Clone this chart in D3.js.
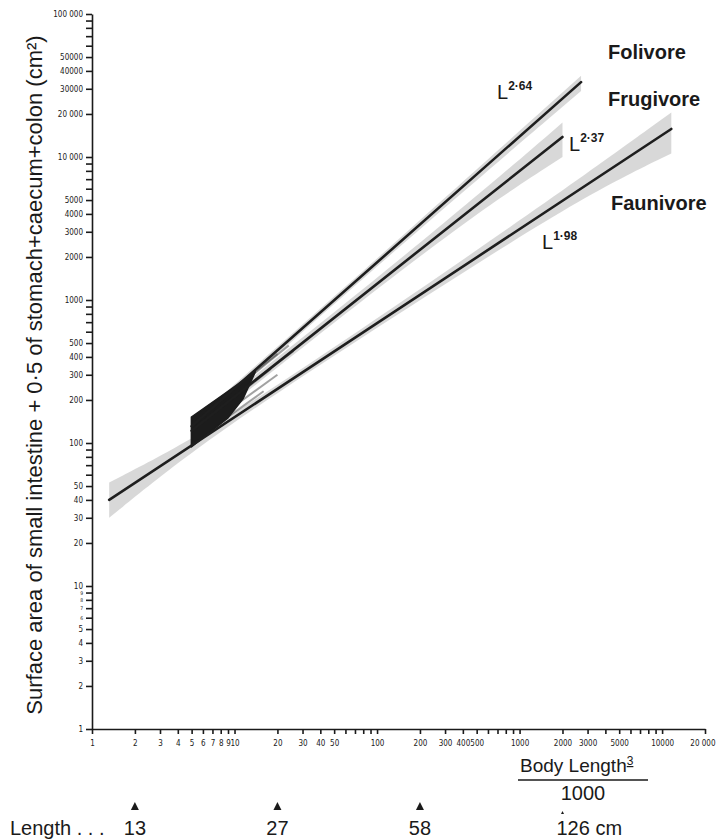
<!DOCTYPE html>
<html>
<head>
<meta charset="utf-8">
<script src="https://cdn.jsdelivr.net/npm/d3@7"></script>
<style>
body { margin: 0; background: #fff; }
svg text { font-family: "Liberation Sans", Arial, Helvetica, sans-serif; fill: #1a1a1a; }
.tick text { font-family: "Liberation Sans Narrow", "DejaVu Sans Condensed", sans-serif; font-size: 8px; }
.tick line, .domain { stroke: #1a1a1a; stroke-width: 1.6; }
</style>
</head>
<body>
<svg id="chart" width="716" height="839"></svg>
<script>

// ---------------------------//
//       DATA                 //
// ---------------------------//

var groups    = ["Folivore", "Frugivore", "Faunivore"];
var exponents = ["2·64", "2·37", "1·98"];

// regression lines: x = body length^3 / 1000, y = surface area (cm2)
var foliLineX = [5, 2700],     foliLineY = [131, 33400];
var frugLineX = [5, 2000],     frugLineY = [122, 13800];
var faunLineX = [1.32, 11600], faunLineY = [40, 15700];

// shaded confidence bands
var foliBandX  = [5, 100, 2700];
var foliBandLo = [122, 1750, 29000];
var foliBandHi = [140, 1930, 37000];

var frugBandX  = [5, 50, 500, 2000];
var frugBandLo = [112, 700, 4100, 10000];
var frugBandHi = [133, 810, 5300, 17400];

var faunBandX  = [1.32, 5, 30, 300, 3000, 11600];
var faunBandLo = [30, 88, 295, 1300, 5500, 10600];
var faunBandHi = [53, 104, 330, 1560, 7700, 20500];

// dense block of individual species lines near x = 5..14
var blobX = [4.98, 9, 14, 11.5, 9, 4.98];
var blobY = [152, 230, 315, 205, 150, 94];

// single species lines fanning out of the block
var streakX0 = [5, 5, 5, 5, 5, 5];
var streakY0 = [145, 135, 120, 110, 100, 128];
var streakX1 = [20, 24, 18, 20, 16, 26];
var streakY1 = [420, 480, 330, 300, 230, 440];

// axis ticks
var xTicksLabelled = [1, 2, 3, 4, 5, 6, 7, 8, 9, 10, 20, 30, 40, 50, 100, 200, 300, 400, 500,
                      1000, 2000, 3000, 5000, 10000, 20000];
var xTicksMinor    = [60, 70, 80, 90, 600, 700, 800, 900, 4000, 6000, 7000, 8000, 9000];
var yTicksLabelled = [1, 2, 3, 4, 5, 6, 7, 8, 9, 10, 20, 30, 40, 50, 100, 200, 300, 400, 500,
                      1000, 2000, 3000, 4000, 5000, 10000, 20000, 30000, 40000, 50000, 100000];
var yTicksMinor    = [60, 70, 80, 90, 600, 700, 800, 900, 6000, 7000, 8000, 9000,
                      60000, 70000, 80000, 90000];

// body length markers (cm) under the axis
var markX      = [2, 20, 200, 2000];
var markLabels = ["13", "27", "58", "126"];

// ---------------------------//
//       AXIS  AND SCALE      //
// ---------------------------//

var svg = d3.select("#chart");

var x = d3.scaleLog()
    .domain([1, 20000])
    .range([92, 705]);

var y = d3.scaleLog()
    .domain([1, 100000])
    .range([729, 14]);

var spaced = function(d) {
    if (d == 100000) return "100 000";
    if (d == 10000) return "10 000";
    if (d == 20000) return "20 000";
    return "" + d;
}

var xAll = xTicksLabelled.concat(xTicksMinor);
var xAxis = svg.append("g")
    .attr("transform", "translate(0," + y(1) + ")")
    .call(d3.axisBottom(x)
        .tickValues(xAll)
        .tickSize(5)
        .tickSizeOuter(0)
        .tickPadding(6)
        .tickFormat(function(d) {
            if (xTicksLabelled.indexOf(d) < 0) return "";
            return d == 10000 ? "10000" : spaced(d);
        }));

// last label runs to the page edge
xAxis.selectAll(".tick text")
    .filter(function(d) { return d == 20000; })
    .attr("text-anchor", "end")
    .attr("dx", 10);

var yAll = yTicksLabelled.concat(yTicksMinor);
var yAxis = svg.append("g")
    .attr("transform", "translate(" + x(1) + ",0)")
    .call(d3.axisLeft(y)
        .tickValues(yAll)
        .tickSize(6)
        .tickSizeOuter(0)
        .tickPadding(3)
        .tickFormat(function(d) {
            return yTicksLabelled.indexOf(d) < 0 ? "" : spaced(d);
        }));

// crowded 6..9 labels just under 10
yAxis.selectAll(".tick text")
    .filter(function(d) { return d >= 6 && d <= 9; })
    .style("font-size", "5px");

// Y axis title
svg.append("text")
    .attr("transform", "translate(42,375) rotate(-90)")
    .attr("text-anchor", "middle")
    .style("font-size", "22px")
    .text("Surface area of small intestine + 0·5 of stomach+caecum+colon (cm²)");

// X axis title: Body Length3 / 1000
var xt = svg.append("text")
    .attr("x", 520)
    .attr("y", 772)
    .style("font-size", "19px");
xt.append("tspan").text("Body Length");
xt.append("tspan")
    .attr("dy", -7)
    .style("font-size", "12px")
    .style("text-decoration", "underline")
    .text("3");

svg.append("line")
    .attr("x1", 518).attr("x2", 648)
    .attr("y1", 780).attr("y2", 780)
    .attr("stroke", "#1a1a1a")
    .attr("stroke-width", 1.5);

svg.append("text")
    .attr("x", 583)
    .attr("y", 800)
    .attr("text-anchor", "middle")
    .style("font-size", "20px")
    .text("1000");

// ---------------------------//
//       BANDS                //
// ---------------------------//

var band = d3.area()
    .x(function(d) { return x(d[0]); })
    .y0(function(d) { return y(d[1]); })
    .y1(function(d) { return y(d[2]); })
    .curve(d3.curveBasis);

var bands = [
    d3.zip(faunBandX, faunBandLo, faunBandHi),
    d3.zip(frugBandX, frugBandLo, frugBandHi),
    d3.zip(foliBandX, foliBandLo, foliBandHi)
];

svg.append("g")
    .selectAll("path")
    .data(bands)
    .enter()
    .append("path")
    .attr("d", band)
    .attr("fill", "#c8c8c8")
    .attr("opacity", 0.7);

// ---------------------------//
//       BLOCK + LINES        //
// ---------------------------//

var line = d3.line()
    .x(function(d) { return x(d[0]); })
    .y(function(d) { return y(d[1]); });

svg.append("g")
    .selectAll("line")
    .data(d3.range(streakX0.length))
    .enter()
    .append("line")
    .attr("x1", function(i) { return x(streakX0[i]); })
    .attr("y1", function(i) { return y(streakY0[i]); })
    .attr("x2", function(i) { return x(streakX1[i]); })
    .attr("y2", function(i) { return y(streakY1[i]); })
    .attr("stroke", "#333")
    .attr("stroke-width", 2)
    .attr("opacity", 0.45);

svg.append("path")
    .datum(d3.zip(blobX, blobY))
    .attr("d", line.curve(d3.curveLinearClosed))
    .attr("fill", "#1c1c1c")
    .attr("stroke", "#1c1c1c")
    .attr("stroke-width", 1.5)
    .attr("stroke-linejoin", "round");

line.curve(d3.curveLinear);

var lines = [
    d3.zip(foliLineX, foliLineY),
    d3.zip(frugLineX, frugLineY),
    d3.zip(faunLineX, faunLineY)
];

svg.append("g")
    .selectAll("path")
    .data(lines)
    .enter()
    .append("path")
    .attr("d", line)
    .attr("fill", "none")
    .attr("stroke", "#1e1e1e")
    .attr("stroke-width", 2.6)
    .attr("stroke-linecap", "round");

// ---------------------------//
//       LABELS               //
// ---------------------------//

var groupPos = [[608, 59], [608, 106], [611, 210]];
svg.selectAll("text.group")
    .data(groups)
    .enter()
    .append("text")
    .attr("class", "group")
    .attr("x", function(d, i) { return groupPos[i][0]; })
    .attr("y", function(d, i) { return groupPos[i][1]; })
    .style("font-size", "20px")
    .style("font-weight", "bold")
    .text(function(d) { return d; });

var expPos = [[497, 99], [569, 151], [542, 249]];
var expText = svg.selectAll("text.expo")
    .data(exponents)
    .enter()
    .append("text")
    .attr("class", "expo")
    .attr("x", function(d, i) { return expPos[i][0]; })
    .attr("y", function(d, i) { return expPos[i][1]; })
    .style("font-size", "20px");
expText.append("tspan").text("L");
expText.append("tspan")
    .attr("dy", -9)
    .style("font-size", "12px")
    .style("font-weight", "bold")
    .text(function(d) { return d; });

// body length markers
svg.append("text")
    .attr("x", 10)
    .attr("y", 835)
    .style("font-size", "20px")
    .text("Length . . .");

svg.selectAll("path.mark")
    .data(markX)
    .enter()
    .append("path")
    .attr("class", "mark")
    .attr("d", function(d, i) {
        var s = i == 3 ? 1.5 : 4;
        var top = i == 3 ? 811 : 802;
        return "M" + x(d) + "," + top + "l" + s + "," + (2 * s) + "l" + (-2 * s) + ",0z";
    })
    .attr("fill", "#1a1a1a");

svg.selectAll("text.mark")
    .data(markLabels)
    .enter()
    .append("text")
    .attr("class", "mark")
    .attr("x", function(d, i) { return i == 3 ? x(markX[i]) - 6 : x(markX[i]); })
    .attr("y", 835)
    .attr("text-anchor", function(d, i) { return i == 3 ? "start" : "middle"; })
    .style("font-size", "20px")
    .text(function(d, i) { return i == 3 ? d + " cm" : d; });

</script>
</body>
</html>
